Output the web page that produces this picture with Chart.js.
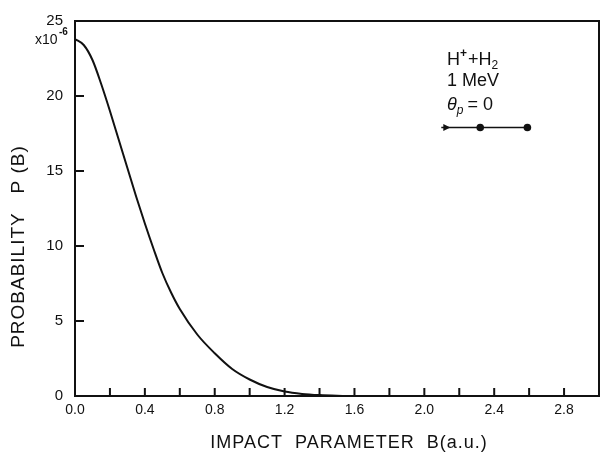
<!DOCTYPE html>
<html>
<head>
<meta charset="utf-8">
<script src="https://cdn.jsdelivr.net/npm/chart.js@4.4.1/dist/chart.umd.min.js"></script>
<style>
  html, body { margin: 0; padding: 0; background: #fff; }
  #wrap { width: 605px; height: 454px; }
</style>
</head>
<body>
<div id="wrap"><canvas id="chart" width="605" height="454"></canvas></div>
<script>
// impact parameter B (a.u.) and probability P(B) in units of 1e-6
const impactB = [0, 0.05, 0.1, 0.15, 0.2, 0.25, 0.3, 0.35, 0.4, 0.45, 0.5, 0.55, 0.6, 0.7, 0.8, 0.9, 1.0, 1.1, 1.2, 1.3, 1.4, 1.5, 1.6, 1.8, 2.0];
const probP = [23.8, 23.4, 22.4, 20.8, 19.0, 17.1, 15.2, 13.3, 11.5, 9.8, 8.2, 6.9, 5.8, 4.1, 2.85, 1.8, 1.1, 0.6, 0.3, 0.14, 0.06, 0.02, 0, 0, 0];

const xTickLabels = ['0.0', '0.4', '0.8', '1.2', '1.6', '2.0', '2.4', '2.8'];
const yTickLabels = ['0', '5', '10', '15', '20', '25'];

const xTitle = 'IMPACT  PARAMETER  B(a.u.)';
const yTitle = 'PROBABILITY   P (B)';

// label in the upper right: molecule orientation (B, P)
const moleculeB = [2.12, 2.32, 2.59];
const moleculeP = 17.9;
const noteB = 2.13;
const noteP = [22.1, 20.7, 19.1];

const FONT = '"Liberation Sans", Arial, sans-serif';

const framePlugin = {
  id: 'frame',
  afterDraw(chart) {
    const { ctx, chartArea: a, scales } = chart;
    const xs = scales.x, ys = scales.y;
    ctx.save();
    ctx.strokeStyle = '#111';
    ctx.lineWidth = 2;
    ctx.strokeRect(a.left, a.top, a.right - a.left, a.bottom - a.top);

    // inward ticks
    ctx.beginPath();
    xs.ticks.forEach(t => {
      if (t.value <= 0 || t.value >= 3) return;
      const px = xs.getPixelForValue(t.value);
      ctx.moveTo(px, a.bottom);
      ctx.lineTo(px, a.bottom - 8);
    });
    ys.ticks.forEach(t => {
      if (t.value <= 0 || t.value >= 25) return;
      const py = ys.getPixelForValue(t.value);
      ctx.moveTo(a.left, py);
      ctx.lineTo(a.left + 9, py);
    });
    ctx.stroke();

    ctx.fillStyle = '#111';

    // axis titles
    ctx.font = '18px ' + FONT;
    ctx.textAlign = 'center';
    ctx.textBaseline = 'alphabetic';
    ctx.letterSpacing = '1px';
    ctx.fillText(xTitle, (a.left + a.right) / 2 + 12, chart.height - 6);
    ctx.save();
    ctx.translate(24, (a.top + a.bottom) / 2 + 38);
    ctx.rotate(-Math.PI / 2);
    ctx.font = '19px ' + FONT;
    ctx.fillText(yTitle, 0, 0);
    ctx.restore();
    ctx.letterSpacing = '0px';

    // x10^-6 under the top label
    ctx.textAlign = 'left';
    const top = ys.getPixelForValue(25);
    ctx.font = '14px ' + FONT;
    ctx.fillText('x10', a.left - 40, top + 23);
    ctx.font = 'bold 10px ' + FONT;
    ctx.fillText('-6', a.left - 16, top + 14);

    // annotation text
    const nx = xs.getPixelForValue(noteB);
    ctx.font = '18px ' + FONT;
    let y0 = ys.getPixelForValue(noteP[0]);
    ctx.fillText('H', nx, y0);
    let w = ctx.measureText('H').width;
    ctx.font = 'bold 12px ' + FONT;
    ctx.fillText('+', nx + w, y0 - 8);
    w += ctx.measureText('+').width + 1;
    ctx.font = '18px ' + FONT;
    ctx.fillText('+H', nx + w, y0);
    w += ctx.measureText('+H').width;
    ctx.font = '12px ' + FONT;
    ctx.fillText('2', nx + w, y0 + 4);

    ctx.font = '18px ' + FONT;
    ctx.fillText('1 MeV', nx, ys.getPixelForValue(noteP[1]));

    const y2 = ys.getPixelForValue(noteP[2]);
    ctx.font = 'italic 18px ' + FONT;
    ctx.fillText('θ', nx, y2);
    w = ctx.measureText('θ').width;
    ctx.font = 'italic 12px ' + FONT;
    ctx.fillText('p', nx + w, y2 + 4);
    w += ctx.measureText('p').width + 4;
    ctx.font = '18px ' + FONT;
    ctx.fillText('= 0', nx + w, y2);

    // molecule axis with arrow and two nuclei
    const my = ys.getPixelForValue(moleculeP);
    const mx = moleculeB.map(v => xs.getPixelForValue(v));
    ctx.lineWidth = 1.5;
    ctx.beginPath();
    ctx.moveTo(mx[0] - 4, my);
    ctx.lineTo(mx[2], my);
    ctx.stroke();
    ctx.beginPath();
    ctx.moveTo(mx[0] + 5, my);
    ctx.lineTo(mx[0] - 2, my - 3.5);
    ctx.lineTo(mx[0] - 2, my + 3.5);
    ctx.closePath();
    ctx.fill();
    [mx[1], mx[2]].forEach(px => {
      ctx.beginPath();
      ctx.arc(px, my, 3.8, 0, Math.PI * 2);
      ctx.fill();
    });
    ctx.restore();
  }
};

const ctx = document.getElementById('chart').getContext('2d');
new Chart(ctx, {
  type: 'line',
  data: {
    datasets: [{
      data: impactB.map((b, i) => ({ x: b, y: probP[i] })),
      borderColor: '#111',
      borderWidth: 2,
      pointRadius: 0,
      tension: 0.4,
      cubicInterpolationMode: 'monotone',
      fill: false
    }]
  },
  options: {
    responsive: false,
    animation: false,
    layout: { padding: { left: 0, right: 2, top: 14, bottom: 0 } },
    plugins: { legend: { display: false }, tooltip: { enabled: false } },
    scales: {
      x: {
        type: 'linear',
        min: 0,
        max: 3,
        afterFit(s) { s.height = 58; },
        afterBuildTicks(s) {
          const t = [];
          for (let i = 0; i <= 15; i++) t.push({ value: i * 0.2 });
          s.ticks = t;
        },
        grid: { display: false, drawTicks: false },
        border: { display: false },
        ticks: {
          autoSkip: false,
          maxRotation: 0,
          padding: 6,
          color: '#111',
          font: { family: FONT, size: 14 },
          callback(v, i) { return i % 2 === 0 ? xTickLabels[i / 2] : ''; }
        }
      },
      y: {
        min: 0,
        max: 25,
        afterFit(s) { s.width = 75; },
        afterBuildTicks(s) {
          s.ticks = yTickLabels.map((l, i) => ({ value: i * 5 }));
        },
        grid: { display: false, drawTicks: false },
        border: { display: false },
        ticks: {
          padding: 12,
          color: '#111',
          font: { family: FONT, size: 15 },
          callback(v, i) { return yTickLabels[i]; }
        }
      }
    }
  },
  plugins: [framePlugin]
});
</script>
</body>
</html>
